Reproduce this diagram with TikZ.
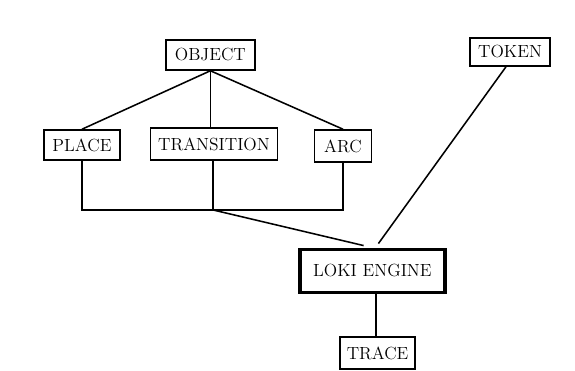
\documentclass[tikz,border=0pt]{standalone}
\begin{document}
\begin{tikzpicture}[
    box/.style={draw, line width=1.1pt, inner sep=0pt, font=\fontsize{12.5}{15}\selectfont},
    link/.style={line width=1.1pt}
  ]
      \useasboundingbox (0,0) rectangle (14.375,9.275);

      \node[box, minimum width=2.22cm, minimum height=0.75cm] (object) at (5.26,7.9) {OBJECT};
      \node[box, minimum width=2cm, minimum height=0.7cm] (token) at (12.75,7.975) {TOKEN};

      \node[box, minimum width=1.9cm, minimum height=0.75cm] (place) at (2.05,5.65) {PLACE};
      \node[box, minimum width=3.18cm, minimum height=0.8cm] (transition) at (5.35,5.675) {TRANSITION};
      \node[box, minimum width=1.43cm, minimum height=0.8cm] (arc) at (8.575,5.625) {ARC};

      \node[box, line width=2.6pt, minimum width=3.63cm, minimum height=1.08cm] (loki) at (9.31,2.5) {LOKI ENGINE};
      \node[box, minimum width=1.88cm, minimum height=0.8cm] (trace) at (9.44,0.45) {TRACE};

      \coordinate (bus) at (5.33,4.025); % where the three lower lines meet

      \draw[link] (object.south) -- (place.north);
      \draw[link] (object.south) -- (object.south |- transition.north);
      \draw[link] (object.south) -- (arc.north);

      \draw[link] (place.south) -- (place.south |- bus) -- (arc.south |- bus) -- (arc.south);
      \draw[link] (bus |- transition.south) -- (bus);
      \draw[link] (bus) -- ([xshift=-0.22cm, yshift=0.05cm]loki.north);

      \draw[link] ([xshift=-0.1cm]token.south) -- ([xshift=0.15cm, yshift=0.1cm]loki.north);
      \draw[link] ([xshift=0.09cm]loki.south) -- ([xshift=0.09cm]loki.south |- trace.north);

\end{tikzpicture}
\end{document}
